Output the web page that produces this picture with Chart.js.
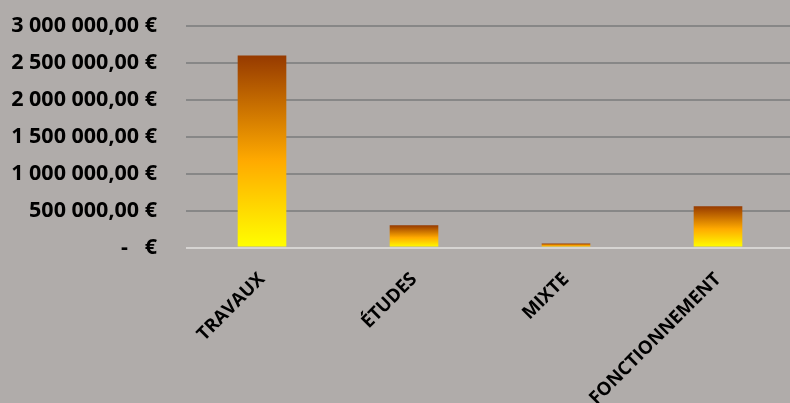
<!DOCTYPE html>
<html>
<head>
<meta charset="utf-8">
<script src="https://cdn.jsdelivr.net/npm/chart.js@4"></script>
<style>
  html, body { margin: 0; padding: 0; overflow: hidden; background: #b0acaa; }
  #wrap { width: 794px; height: 403px; position: relative; }
</style>
</head>
<body>
<div id="wrap"><canvas id="bars"></canvas></div>
<script>
// montants par type d'opération
const categories = ['TRAVAUX', 'ÉTUDES', 'MIXTE', 'FONCTIONNEMENT'];
const montants = [2600000, 300000, 55000, 560000];
const yTicks = [0, 500000, 1000000, 1500000, 2000000, 2500000, 3000000];

function formatEuro(v) {
    if (v === 0) return '-   €';
    const s = Math.round(v).toString().replace(/\B(?=(\d{3})+(?!\d))/g, ' ');
    return s + ',00 €';
}

// dégradé jaune -> orange -> brun, un par barre
function barGradient(ctx) {
    const chart = ctx.chart;
    const y = chart.scales.y;
    if (!y || ctx.raw === undefined) return '#ffaa00';
    const top = y.getPixelForValue(ctx.raw);
    const base = y.getPixelForValue(0);
    if (!isFinite(top) || !isFinite(base) || top === base) return '#ffaa00';
    const g = chart.ctx.createLinearGradient(0, base, 0, top);
    g.addColorStop(0, '#ffff00');
    g.addColorStop(0.45, '#ffaa00');
    g.addColorStop(1, '#963a00');
    return g;
}

const barConfig = {
    type: 'bar',
    data: {
        labels: categories,
        datasets: [{
            label: 'Montant',
            data: montants,
            backgroundColor: barGradient,
            borderWidth: 0,
            barPercentage: 0.32,
            categoryPercentage: 1,
        }],
    },
    options: {
        responsive: true,
        maintainAspectRatio: false,
        animation: false,
        layout: { padding: { top: 26, left: 0, right: 0, bottom: 0 } },
        plugins: {
            legend: { display: false },
            tooltip: { enabled: false },
        },
        scales: {
            x: {
                grid: { display: false },
                border: { display: false },
                ticks: {
                    color: '#000',
                    font: { family: 'Open Sans', weight: 'bold', size: 18.5 },
                    minRotation: 45,
                    maxRotation: 45,
                    autoSkip: false,
                    padding: 13,
                },
                afterFit(scale) { scale.height = 155.5; },
            },
            y: {
                min: 0,
                max: 3000000,
                border: { display: false },
                grid: {
                    drawTicks: false,
                    lineWidth: 2,
                    color: (c) => (c.tick && c.tick.value === 0) ? '#d6d4d2' : '#878787',
                },
                afterBuildTicks(scale) { scale.ticks = yTicks.map(v => ({ value: v })); },
                ticks: {
                    color: '#000',
                    font: { family: 'Open Sans', weight: 'bold', size: 21.5 },
                    padding: 29,
                    callback: (v) => formatEuro(v),
                },
                afterFit(scale) {
                    scale.width = 186;
                    scale.paddingTop = 0;
                    scale.paddingBottom = 0;
                },
            },
        },
    },
};

const barsCtx = document.getElementById('bars');
window.myBar = new Chart(barsCtx, barConfig);
</script>
</body>
</html>
